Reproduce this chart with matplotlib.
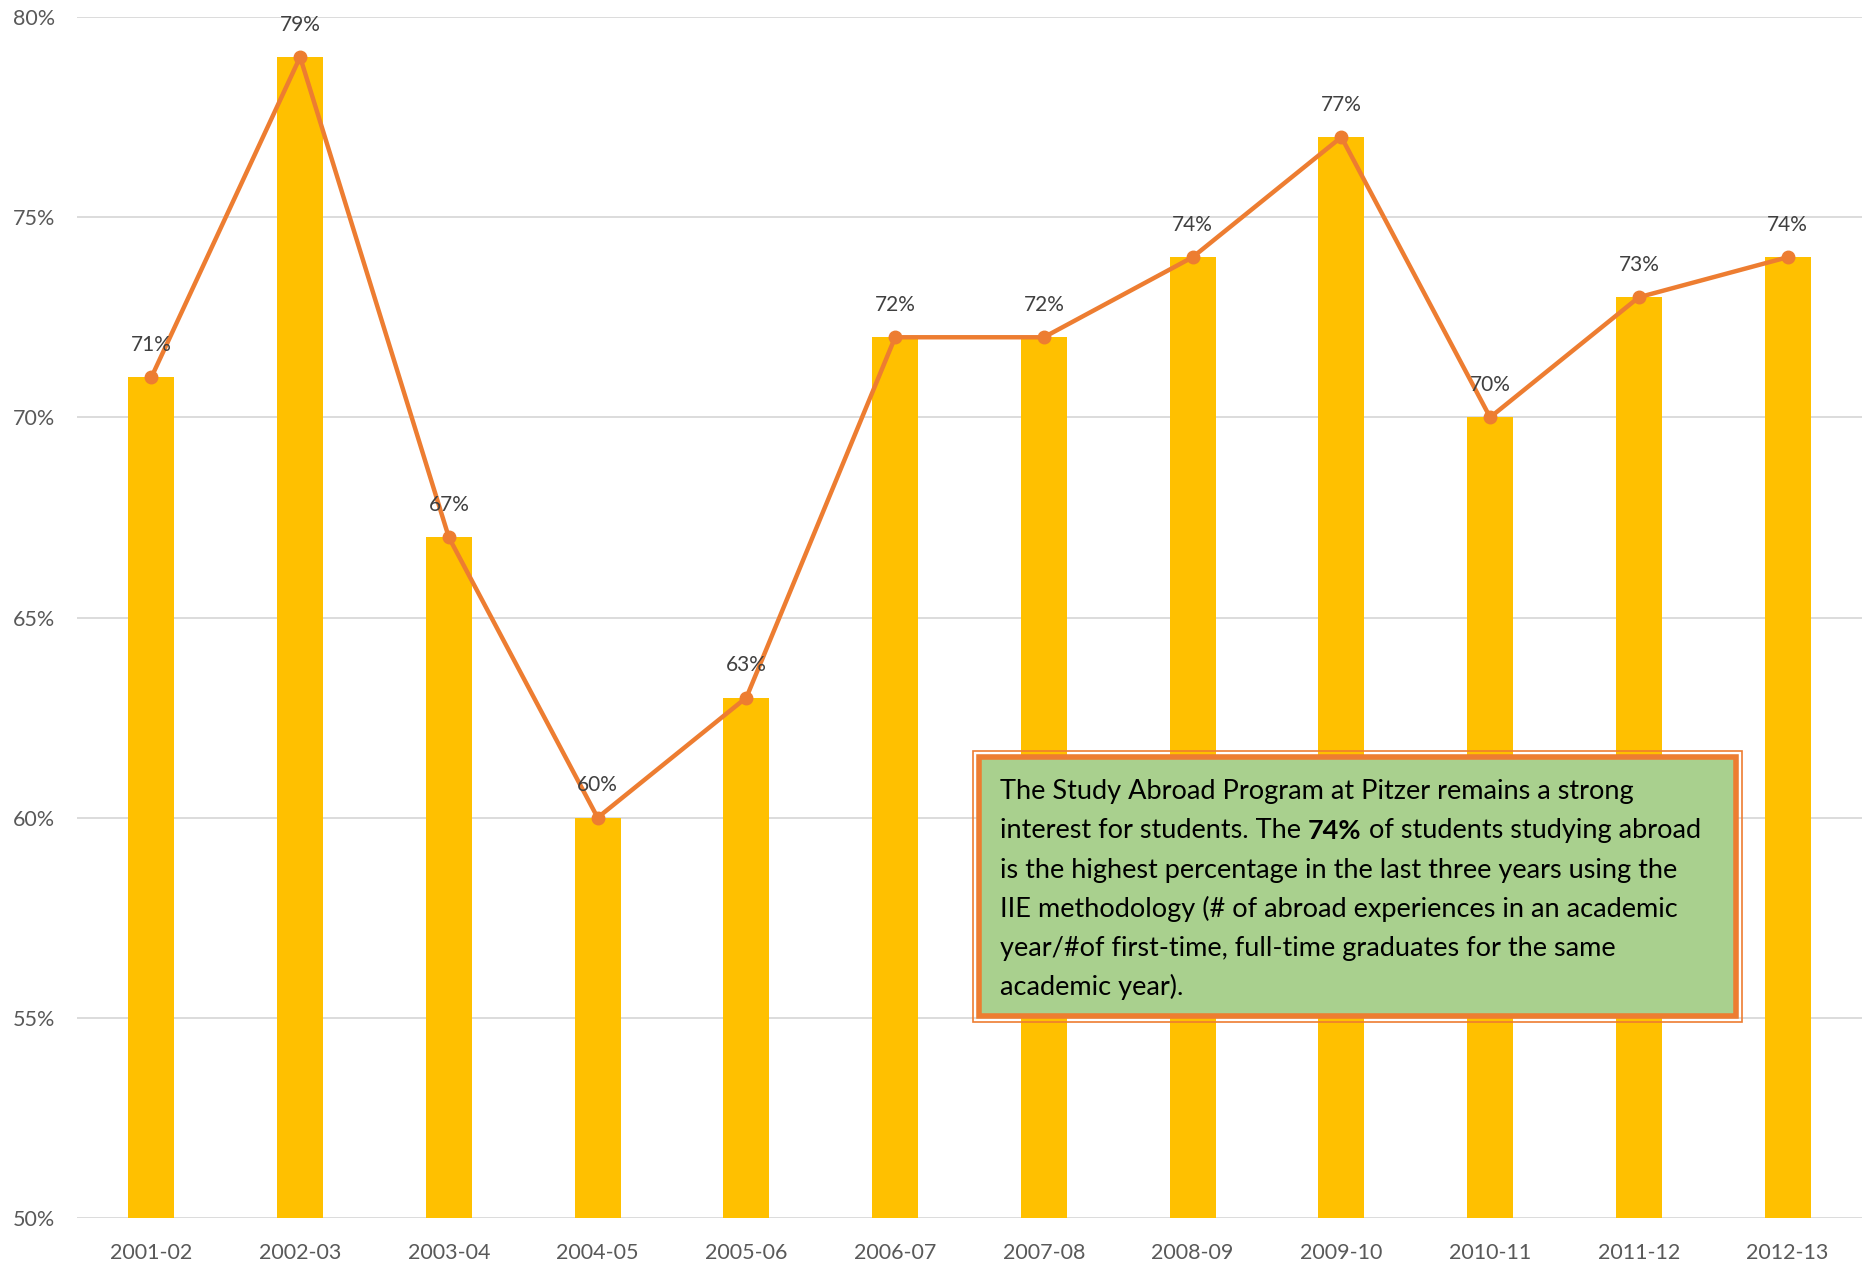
import matplotlib.pyplot as plt
from matplotlib.patches import Rectangle
from matplotlib.text import Annotation

years = ["2001-02", "2002-03", "2003-04", "2004-05", "2005-06", "2006-07",
         "2007-08", "2008-09", "2009-10", "2010-11", "2011-12", "2012-13"]
pct = [71, 79, 67, 60, 63, 72, 72, 74, 77, 70, 73, 74]

W, H = 1869, 1262
fig = plt.figure(figsize=(W / 100, H / 100), dpi=100)
plt.rcParams["font.family"] = ["Lato", "DejaVu Sans"]

# axes box in pixels (left, top, right, bottom)
l, t, r, b = 77, 17, 1862, 1218
ax = fig.add_axes([l / W, 1 - b / H, (r - l) / W, (b - t) / H])

x = range(len(years))
ax.bar(x, pct, width=0.31, color="#FFC000", zorder=2)
ax.plot(x, pct, color="#ED7D31", lw=3.2, marker="o", ms=9, zorder=3)
for i, v in enumerate(pct):
    ax.annotate(f"{v}%", (i, v), xytext=(0, 16), textcoords="offset points",
                ha="center", va="bottom", fontsize=15, color="#404040", zorder=4)

ax.set_xlim(-0.5, len(years) - 0.5)
ax.set_ylim(50, 80)
ax.set_yticks(range(50, 81, 5))
ax.set_yticklabels([f"{v}%" for v in range(50, 81, 5)])
ax.set_xticks(list(x))
ax.set_xticklabels(years)
ax.tick_params(length=0, labelsize=15.5, labelcolor="#595959")
ax.tick_params(axis="x", pad=18)
ax.tick_params(axis="y", pad=16)
ax.grid(axis="y", color="#D9D9D9", lw=1.3, zorder=0)
for s in ax.spines.values():
    s.set_visible(False)

# callout box
bx0, by0, bx1, by1 = 973, 751, 1742, 1022
fig.patches.append(Rectangle((bx0 / W, 1 - by1 / H), (bx1 - bx0) / W, (by1 - by0) / H,
                             transform=fig.transFigure, fill=False,
                             ec="#ED7D31", lw=1.2, zorder=5))
ix0, iy0, ix1, iy1 = 979, 757, 1736, 1016
fig.patches.append(Rectangle((ix0 / W, 1 - iy1 / H), (ix1 - ix0) / W, (iy1 - iy0) / H,
                             transform=fig.transFigure, fc="#A9D08E",
                             ec="#ED7D31", lw=4, zorder=5))

lines = [
    ["The Study Abroad Program at Pitzer remains a strong"],
    ["interest for students. The ", "74%", " of students studying abroad"],
    ["is the highest percentage in the last three years using the"],
    ["IIE methodology (# of abroad experiences in an academic"],
    ["year/#of first-time, full-time graduates for the same"],
    ["academic year)."],
]
tx, ty, step = 1000, 799, 39.3
for k, parts in enumerate(lines):
    y = 1 - (ty + k * step) / H
    prev = fig.text(tx / W, y, parts[0], fontsize=19.5, color="black",
                    va="baseline", zorder=6)
    # remaining pieces chained after the previous one, on the same baseline
    for p in parts[1:]:
        nxt = Annotation(p, xy=(1, 0), xycoords=prev, va="bottom", ha="left",
                         fontsize=19.5, color="black", zorder=6,
                         fontweight="bold" if p == "74%" else "normal")
        fig.add_artist(nxt)
        prev = nxt

fig.savefig("out.png", dpi=100)
